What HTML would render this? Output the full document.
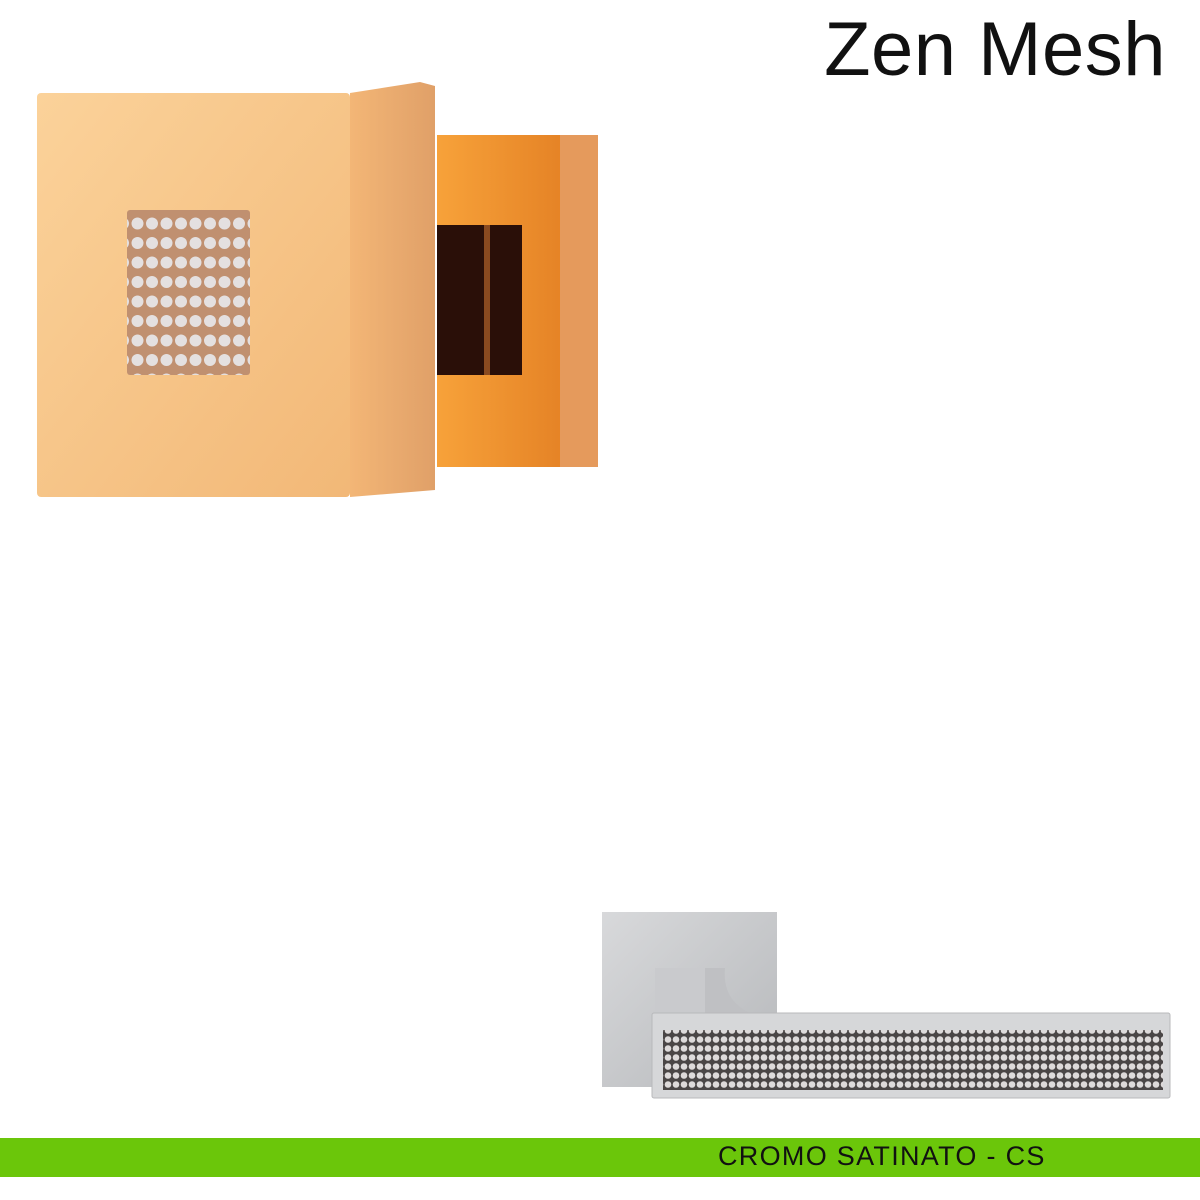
<!DOCTYPE html>
<html><head><style>
body{margin:0;width:1200px;height:1200px;background:#fff;overflow:hidden;position:relative;font-family:"Liberation Sans",sans-serif}
.t{position:absolute;right:34px;top:6px;font-size:76px;color:#111;letter-spacing:0.5px}
.bar{position:absolute;left:0;top:1138px;width:1200px;height:39px;background:#6bc60a}
.bar span{position:absolute;left:718px;top:3px;font-size:27px;color:#111;letter-spacing:1.3px}
</style></head><body>
<div class="t">Zen Mesh</div>
<svg width="1200" height="1200" style="position:absolute;left:0;top:0">
<defs>
<linearGradient id="f" x1="0" y1="0" x2="1" y2="1"><stop offset="0" stop-color="#fbd29a"/><stop offset="1" stop-color="#f2b877"/></linearGradient>
<linearGradient id="s" x1="0" y1="0" x2="1" y2="0"><stop offset="0" stop-color="#f3b676"/><stop offset="1" stop-color="#e0a068"/></linearGradient>
<linearGradient id="r" x1="0" y1="0" x2="1" y2="0"><stop offset="0" stop-color="#f7a23a"/><stop offset="1" stop-color="#e07a20"/></linearGradient>
<pattern id="cr" width="14.5" height="19.5" patternUnits="userSpaceOnUse"><rect width="14.5" height="19.5" fill="#c09070"/><circle cx="7" cy="9" r="6" fill="#e4e0e0"/></pattern>
<pattern id="cr2" width="8" height="9" patternUnits="userSpaceOnUse"><rect width="8" height="9" fill="#4a4646"/><circle cx="4" cy="4.5" r="3.3" fill="#dddada"/></pattern>
<linearGradient id="g" x1="0" y1="0" x2="1" y2="1"><stop offset="0" stop-color="#d8d9db"/><stop offset="1" stop-color="#b6b8bb"/></linearGradient>
</defs>
<rect x="437" y="135" width="161" height="332" fill="url(#r)"/>
<rect x="560" y="135" width="38" height="332" fill="#e59a5c"/>
<rect x="437" y="225" width="85" height="150" fill="#2a0f08"/>
<rect x="484" y="225" width="6" height="150" fill="#8a4a20"/>
<polygon points="350,93 350,497 435,490 435,86 420,82" fill="url(#s)"/>
<rect x="37" y="93" width="313" height="404" rx="4" fill="url(#f)"/>
<rect x="127" y="210" width="123" height="165" rx="3" fill="url(#cr)"/>
<rect x="602" y="912" width="175" height="175" fill="url(#g)"/>
<path d="M655 968 H705 V1013 H655 Z" fill="#c9cacd"/>
<path d="M705 968 L725 968 Q722 1000 750 1013 L705 1013 Z" fill="#bfc0c3"/>
<rect x="652" y="1013" width="518" height="85" rx="2" fill="#d6d7d9" stroke="#b8b9bb"/>
<rect x="663" y="1030" width="500" height="60" fill="url(#cr2)"/>
</svg>
<div class="bar"><span>CROMO SATINATO - CS</span></div>
</body></html>
